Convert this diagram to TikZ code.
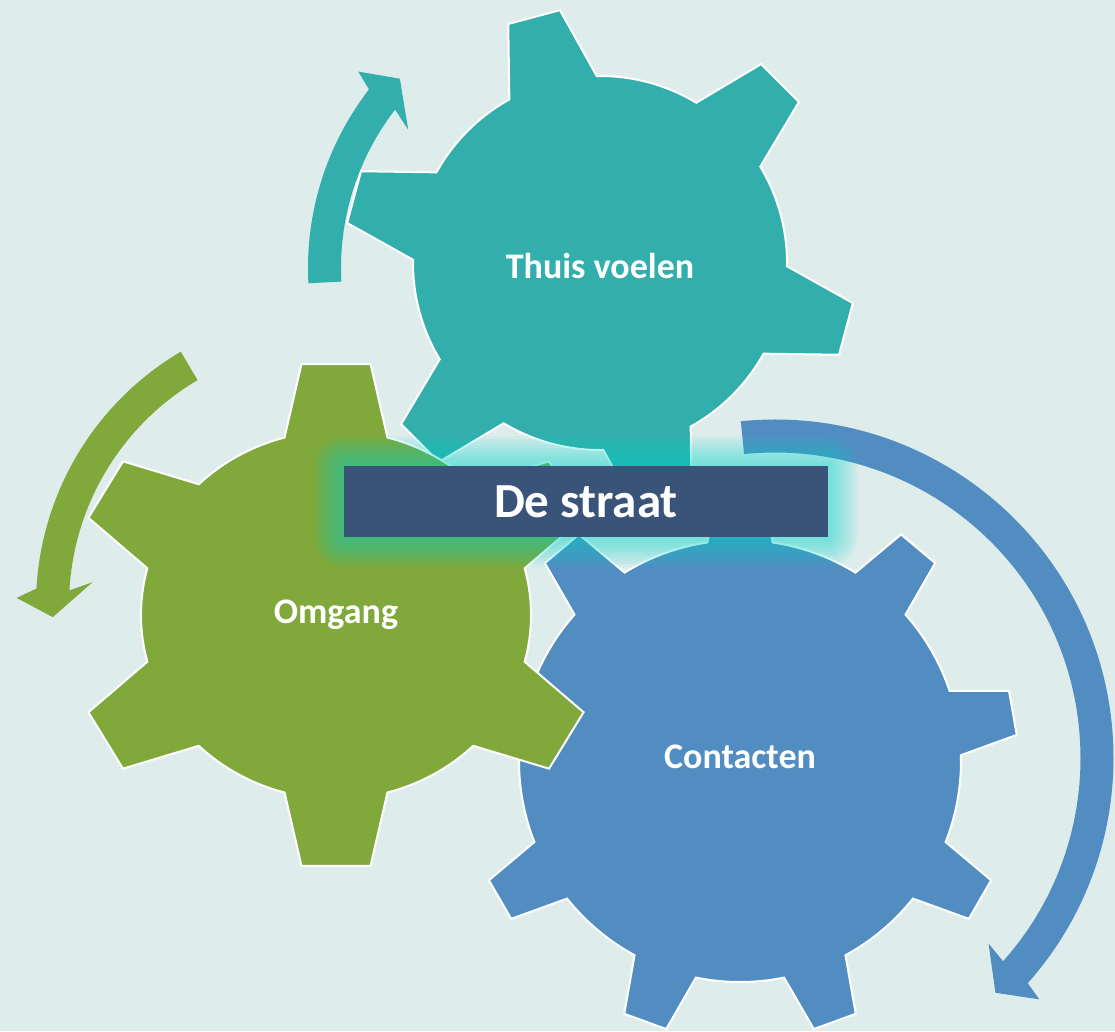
\documentclass[tikz,border=0pt]{standalone}
\usepackage{fontspec}
\setmainfont{Carlito}

\definecolor{bgcol}{RGB}{223,236,236}
\definecolor{tealgear}{RGB}{50,174,173}
\definecolor{greengear}{RGB}{128,168,58}
\definecolor{bluegear}{RGB}{81,141,193}
\definecolor{boxblue}{RGB}{58,84,121}
\definecolor{glowcyan}{RGB}{0,215,205}

\tikzset{
  gearline/.style={fill=#1, draw=white, line width=2pt, line join=miter},
  gearlabel/.style={text=white, font=\fontsize{36}{40}\selectfont\bfseries},
  straatbox/.style={fill=boxblue, text=white, inner sep=0pt,
    minimum width=484pt, minimum height=71pt,
    font=\fontsize{49}{54}\selectfont\bfseries},
  glowlayer/.style={fill=glowcyan, opacity=0.06}
}

% gear: fill, centre, xscale, teeth, first tooth, body radius, tip radius, base half angle, tip half angle
\newcommand{\drawgear}[9]{%
  \pgfmathsetmacro{\gstep}{360/#4}
  \draw[gearline=#1, shift={#2}, xscale=#3] ({#5-#8}:#6)
    foreach \k in {1,...,#4} {
      -- ({#5+(\k-1)*\gstep-#9}:#7) -- ({#5+(\k-1)*\gstep+#9}:#7)
      -- ({#5+(\k-1)*\gstep+#8}:#6)
      arc[start angle={#5+(\k-1)*\gstep+#8}, end angle={#5+\k*\gstep-#8}, radius=#6]
    } -- cycle;
}

% turning arrow: fill, centre, mid radius, tail angle, head angle, tip angle, outer barb angle, inner barb angle
\newcommand{\drawturn}[8]{%
  \fill[#1, shift={#2}] (#4:{#3+16.5})
    arc[start angle=#4, end angle=#5, radius={#3+16.5}]
    -- (#7:{#3+36}) -- (#6:#3) -- (#8:{#3-39}) -- (#5:{#3-16.5})
    arc[start angle=#5, end angle=#4, radius={#3-16.5}] -- cycle;
}

\begin{document}
\begin{tikzpicture}[x=1pt, y=1pt]
  \fill[bgcol] (0,0) rectangle (1115,-1031);
  \useasboundingbox (0,0) rectangle (1115,-1031);

  % arrows
  \drawturn{tealgear}{(600,-268)}{275.5}{183}{142.3}{136.6}{140.9}{144.2}
  \drawturn{greengear}{(330,-605)}{277.5}{120.5}{176.8}{182.5}{178.7}{174.5}
  \drawturn{bluegear}{(775,-758)}{322}{95.8}{-41.7}{-46.8}{-42.4}{-41}

  % gears
  \drawgear{bluegear}{(740,-761)}{1}{9}{10}{221}{278}{8.5}{4.6}
  \drawgear{tealgear}{(600,-263)}{1}{6}{105}{187}{256}{14}{6}
  \drawgear{greengear}{(336,-615)}{1.06}{6}{90}{184}{253}{15.3}{7.4}

  \node[gearlabel] (thuis) at (600,-266) {Thuis voelen};
  \node[gearlabel] (omgang) at (336,-615) {Omgang};
  \node[gearlabel] (contacten) at (740,-757) {Contacten};

  % glow round the box
  \foreach \g in {1,...,10}
    \fill[glowlayer, rounded corners=\g*3pt] (344-\g*3,-466+\g*3) rectangle (828+\g*3,-537-\g*3);

  \node[straatbox] (straat) at (586,-501.5) {De straat};
\end{tikzpicture}
\end{document}
